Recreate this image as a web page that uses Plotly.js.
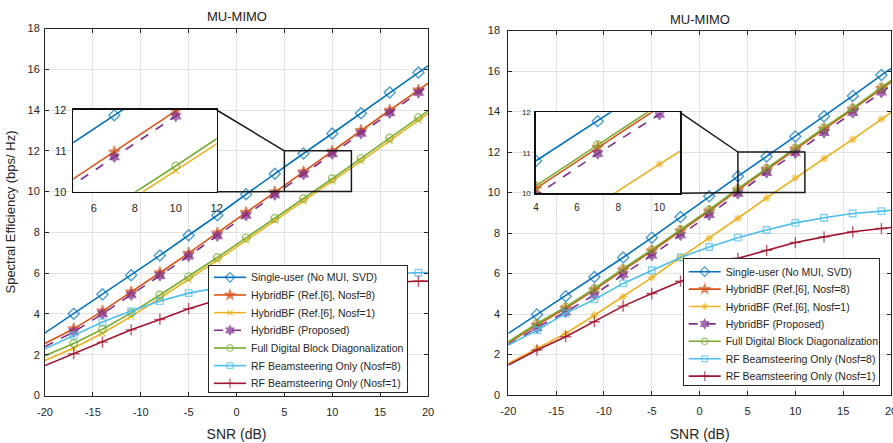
<!DOCTYPE html>
<html><head><meta charset="utf-8">
<script src="https://cdn.plot.ly/plotly-3.0.1.min.js"></script>
<style>html,body{margin:0;padding:0;background:#fff;}#chart{width:893px;height:443px;}</style>
</head><body><div id="chart"></div>
<script>
// ---------------- data ----------------
const snr = [-20, -17, -14, -11, -8, -5, -2, 1, 4, 7, 10, 13, 16, 19, 20];
const seriesNames = [
  'Single-user (No MUI, SVD)',
  'HybridBF (Ref.[6], Nosf=8)',
  'HybridBF (Ref.[6], Nosf=1)',
  'HybridBF (Proposed)',
  'Full Digital Block Diagonalization',
  'RF Beamsteering Only (Nosf=8)',
  'RF Beamsteering Only (Nosf=1)'
];
const panelTitle = 'MU-MIMO';
const xTitle = 'SNR (dB)';
const yTitle = 'Spectral Efficiency (bps/ Hz)';
const xTickVals = [-20, -15, -10, -5, 0, 5, 10, 15, 20];
const xTickText = ['-20', '-15', '-10', '-5', '0', '5', '10', '15', '20'];

// left panel
const leftSingleUser    = [3.07, 4.01, 4.96, 5.90, 6.87, 7.86, 8.84, 9.87, 10.88, 11.87, 12.85, 13.84, 14.86, 15.84, 16.17];
const leftHybridNosf8   = [2.55, 3.27, 4.14, 5.07, 6.02, 6.98, 7.97, 8.97, 9.98, 10.97, 11.98, 13.00, 13.99, 14.98, 15.32];
const leftHybridNosf1   = [1.72, 2.33, 3.05, 3.88, 4.77, 5.69, 6.64, 7.61, 8.57, 9.54, 10.51, 11.50, 12.50, 13.50, 13.83];
const leftProposed      = [2.40, 3.12, 4.00, 4.93, 5.88, 6.84, 7.83, 8.83, 9.84, 10.85, 11.85, 12.86, 13.86, 14.86, 15.19];
const leftFullDigitalBD = [1.95, 2.55, 3.25, 4.05, 4.93, 5.83, 6.77, 7.73, 8.69, 9.66, 10.63, 11.63, 12.63, 13.63, 13.96];
const leftRFNosf8       = [2.29, 2.95, 3.60, 4.14, 4.63, 5.02, 5.28, 5.50, 5.67, 5.80, 5.90, 5.96, 6.00, 6.02, 6.03];
const leftRFNosf1       = [1.47, 2.05, 2.62, 3.22, 3.73, 4.26, 4.68, 5.00, 5.20, 5.34, 5.44, 5.51, 5.56, 5.60, 5.61];

// right panel
const rightSingleUser    = [3.04, 3.98, 4.88, 5.83, 6.79, 7.77, 8.79, 9.81, 10.80, 11.78, 12.77, 13.76, 14.77, 15.80, 16.12];
const rightHybridNosf8   = [2.57, 3.46, 4.28, 5.19, 6.17, 7.11, 8.10, 9.08, 10.12, 11.13, 12.13, 13.13, 14.11, 15.13, 15.46];
const rightHybridNosf1   = [1.56, 2.30, 3.04, 3.94, 4.85, 5.80, 6.79, 7.74, 8.73, 9.73, 10.72, 11.68, 12.62, 13.62, 13.95];
const rightProposed      = [2.48, 3.33, 4.10, 4.95, 5.95, 6.90, 7.90, 8.90, 9.95, 10.98, 11.95, 12.96, 13.94, 14.95, 15.28];
const rightFullDigitalBD = [2.63, 3.53, 4.35, 5.26, 6.24, 7.18, 8.17, 9.15, 10.19, 11.20, 12.20, 13.20, 14.17, 15.20, 15.53];
const rightRFNosf8       = [2.47, 3.20, 4.03, 4.72, 5.51, 6.16, 6.79, 7.31, 7.77, 8.15, 8.50, 8.75, 8.96, 9.08, 9.12];
const rightRFNosf1       = [1.48, 2.22, 2.88, 3.62, 4.39, 5.01, 5.62, 6.20, 6.75, 7.14, 7.53, 7.81, 8.06, 8.22, 8.27];

// axes ranges
const mainXRange = [-20, 20];
const mainYRange = [0, 18];
const leftZoomX = [5, 12];
const rightZoomX = [4, 11];
const zoomY = [10, 12];

// ---------------- styles / geometry ----------------
const W = 893, H = 443;
const FONT = 'Liberation Sans, Arial, Helvetica, sans-serif';
const TXT = '#262626';
const box = {
  left:       {x: [45, 428],    y: [28.5, 395.5]},
  right:      {x: [508.3, 891], y: [30.5, 395]},
  leftInset:  {x: [73.3, 216.7], y: [110, 191.7]},
  rightInset: {x: [536, 680],   y: [112.3, 193.3]}
};
const xd = b => [b.x[0] / W, b.x[1] / W];
const yd = b => [(H - b.y[1]) / H, (H - b.y[0]) / H];

const styles = [
  {color: '#0072BD', symbol: 'diamond-open', size: 8.5, dash: 'solid'},
  {color: '#D95319', symbol: 'star', size: 8.5, dash: 'solid'},
  {color: '#EDB120', symbol: 'x-thin-open', size: 6.5, dash: 'solid'},
  {color: '#7E2F8E', symbol: 'hexagram', size: 8, dash: 'dash'},
  {color: '#77AC30', symbol: 'circle-open', size: 7.5, dash: 'solid'},
  {color: '#4DBEEE', symbol: 'square-open', size: 6.5, dash: 'solid'},
  {color: '#A2142F', symbol: 'cross-thin-open', size: 8, dash: 'solid'}
];

const leftSeries = [leftSingleUser, leftHybridNosf8, leftHybridNosf1, leftProposed, leftFullDigitalBD, leftRFNosf8, leftRFNosf1];
const rightSeries = [rightSingleUser, rightHybridNosf8, rightHybridNosf1, rightProposed, rightFullDigitalBD, rightRFNosf8, rightRFNosf1];

function makeTraces(series, xa, ya, legendId, showlegend, yellowSymbol) {
  return series.map((vals, k) => {
    const st = styles[k];
    const symbol = (k === 2 && yellowSymbol) ? yellowSymbol : st.symbol;
    const last = snr.length - 1;
    const sizes = snr.map((_, i) => (i === 0 || i === last) ? 0 : st.size);
    const lw = snr.map((_, i) => (i === 0 || i === last) ? 0 : 1.4);
    return {
      type: 'scatter', mode: 'lines+markers',
      x: snr, y: vals, name: seriesNames[k],
      xaxis: xa, yaxis: ya, legend: legendId, showlegend: showlegend,
      line: {color: st.color, width: 1.6, dash: st.dash},
      marker: {symbol: symbol, size: sizes, color: st.color, line: {color: st.color, width: lw}},
      cliponaxis: true, hoverinfo: 'skip'
    };
  });
}

const traces = [].concat(
  makeTraces(leftSeries, 'x', 'y', 'legend', true, null),
  makeTraces(rightSeries, 'x2', 'y2', 'legend2', true, 'asterisk-open'),
  makeTraces(leftSeries, 'x3', 'y3', 'legend', false, null),
  makeTraces(rightSeries, 'x4', 'y4', 'legend2', false, 'asterisk-open')
);

const mainAxis = {
  showline: true, linecolor: TXT, linewidth: 1, mirror: 'ticks',
  ticks: 'inside', ticklen: 4, tickwidth: 1, tickcolor: TXT,
  showgrid: true, gridcolor: '#e2e2e2', gridwidth: 1, zeroline: false,
  tickfont: {family: FONT, size: 11, color: TXT}, fixedrange: true, automargin: false
};
const insetAxis = {
  showline: true, linecolor: '#111', linewidth: 1.6, mirror: true,
  ticks: '', showgrid: false, zeroline: false,
  tickfont: {family: FONT, size: 11, color: TXT}, fixedrange: true, automargin: false
};

// map main data coords to paper for inset connectors
function px(b, range, v) { return (b.x[0] + (v - range[0]) / (range[1] - range[0]) * (b.x[1] - b.x[0])) / W; }
function py(b, range, v) { return (H - (b.y[1] - (v - range[0]) / (range[1] - range[0]) * (b.y[1] - b.y[0]))) / H; }

const lineStyle = {color: '#1a1a1a', width: 1.5};
const shapes = [
  {type: 'rect', xref: 'x', yref: 'y', x0: leftZoomX[0], x1: leftZoomX[1], y0: zoomY[0], y1: zoomY[1], line: lineStyle, layer: 'above'},
  {type: 'rect', xref: 'x2', yref: 'y2', x0: rightZoomX[0], x1: rightZoomX[1], y0: zoomY[0], y1: zoomY[1], line: lineStyle, layer: 'above'},
  {type: 'line', xref: 'paper', yref: 'paper', x0: box.leftInset.x[1] / W, y0: (H - box.leftInset.y[0]) / H,
    x1: px(box.left, mainXRange, leftZoomX[0]), y1: py(box.left, mainYRange, zoomY[1]), line: lineStyle},
  {type: 'line', xref: 'paper', yref: 'paper', x0: box.leftInset.x[1] / W, y0: (H - box.leftInset.y[1]) / H,
    x1: px(box.left, mainXRange, leftZoomX[0]), y1: py(box.left, mainYRange, zoomY[0]), line: lineStyle},
  {type: 'line', xref: 'paper', yref: 'paper', x0: box.rightInset.x[1] / W, y0: (H - box.rightInset.y[0]) / H,
    x1: px(box.right, mainXRange, rightZoomX[0]), y1: py(box.right, mainYRange, zoomY[1]), line: lineStyle},
  {type: 'line', xref: 'paper', yref: 'paper', x0: box.rightInset.x[1] / W, y0: (H - box.rightInset.y[1]) / H,
    x1: px(box.right, mainXRange, rightZoomX[0]), y1: py(box.right, mainYRange, zoomY[0]), line: lineStyle}
];

const legendCommon = {
  bgcolor: '#ffffff', bordercolor: '#262626', borderwidth: 1,
  font: {family: FONT, size: 10.5, color: TXT}, itemwidth: 32, xanchor: 'left', yanchor: 'top',
  traceorder: 'normal'
};

const layout = {
  width: W, height: H, margin: {l: 0, r: 0, t: 0, b: 0},
  paper_bgcolor: '#fff', plot_bgcolor: '#fff', showlegend: true,
  font: {family: FONT, color: TXT},
  xaxis: Object.assign({}, mainAxis, {domain: xd(box.left), range: mainXRange, tickmode: 'array', tickvals: xTickVals, ticktext: xTickText, anchor: 'y',
    ticklabelstandoff: 6, title: {text: xTitle, font: {family: FONT, size: 14, color: TXT}, standoff: 12}}),
  yaxis: Object.assign({}, mainAxis, {domain: yd(box.left), range: mainYRange, tick0: 0, dtick: 2, anchor: 'x',
    ticklabelstandoff: 2, title: {text: yTitle, font: {family: FONT, size: 13, color: TXT}, standoff: 8}}),
  xaxis2: Object.assign({}, mainAxis, {domain: xd(box.right), range: mainXRange, tickmode: 'array', tickvals: xTickVals, ticktext: xTickText, anchor: 'y2',
    ticklabelstandoff: 6, ticklabeloverflow: 'allow', title: {text: xTitle, font: {family: FONT, size: 14, color: TXT}, standoff: 12}}),
  yaxis2: Object.assign({}, mainAxis, {domain: yd(box.right), range: mainYRange, tick0: 0, dtick: 2, anchor: 'x2',
    ticklabelstandoff: 5}),
  xaxis3: Object.assign({}, insetAxis, {domain: xd(box.leftInset), range: leftZoomX, tick0: 0, dtick: 2, anchor: 'y3', ticklabelstandoff: 5}),
  yaxis3: Object.assign({}, insetAxis, {domain: yd(box.leftInset), range: zoomY, tick0: 0, dtick: 1, anchor: 'x3', ticklabelstandoff: 3}),
  xaxis4: Object.assign({}, insetAxis, {domain: xd(box.rightInset), range: rightZoomX, tick0: 0, dtick: 2, anchor: 'y4', ticklabelstandoff: 4,
    tickfont: {family: FONT, size: 10, color: TXT}}),
  yaxis4: Object.assign({}, insetAxis, {domain: yd(box.rightInset), range: zoomY, tick0: 0, dtick: 1, anchor: 'x4', ticklabelstandoff: 2,
    tickfont: {family: FONT, size: 8, color: TXT}}),
  legend: Object.assign({}, legendCommon, {x: 208 / W, y: (H - 265) / H}),
  legend2: Object.assign({}, legendCommon, {x: 682.7 / W, y: (H - 258.3) / H}),
  shapes: shapes,
  annotations: [
    {text: panelTitle, xref: 'paper', yref: 'paper', x: (box.left.x[0] + box.left.x[1]) / 2 / W, y: (H - 16) / H,
      xanchor: 'center', yanchor: 'middle', showarrow: false, font: {family: FONT, size: 13, color: '#1a1a1a'}},
    {text: panelTitle, xref: 'paper', yref: 'paper', x: (box.right.x[0] + box.right.x[1]) / 2 / W, y: (H - 19.5) / H,
      xanchor: 'center', yanchor: 'middle', showarrow: false, font: {family: FONT, size: 13, color: '#1a1a1a'}}
  ]
};

// compact the legend rows to match the tighter MATLAB-style spacing
function fitLegend(gd, cls, o) {
  const g = gd.querySelector('g.' + cls);
  if (!g) return;
  g.setAttribute('transform', 'translate(' + o.left + ',' + o.top + ')');
  const bg = g.querySelector('rect.bg');
  if (bg) { bg.setAttribute('width', o.width); bg.setAttribute('height', o.height); }
  g.querySelectorAll('g.traces').forEach((t, i) => {
    const m = /translate\(\s*([-\d.e]+)[ ,]+([-\d.e]+)/.exec(t.getAttribute('transform') || '');
    const x = m ? parseFloat(m[1]) : 1;
    t.setAttribute('transform', 'translate(' + x + ',' + (o.first + i * o.step) + ')');
  });
}

Plotly.newPlot('chart', traces, layout, {staticPlot: true, displayModeBar: false}).then(gd => {
  fitLegend(gd, 'legend', {left: 208, top: 265, width: 199, height: 127, first: 12.3, step: 17.67});
  fitLegend(gd, 'legend2', {left: 682.7, top: 258.3, width: 196.6, height: 126.7, first: 13.4, step: 17.4});
});
</script>
</body></html>
